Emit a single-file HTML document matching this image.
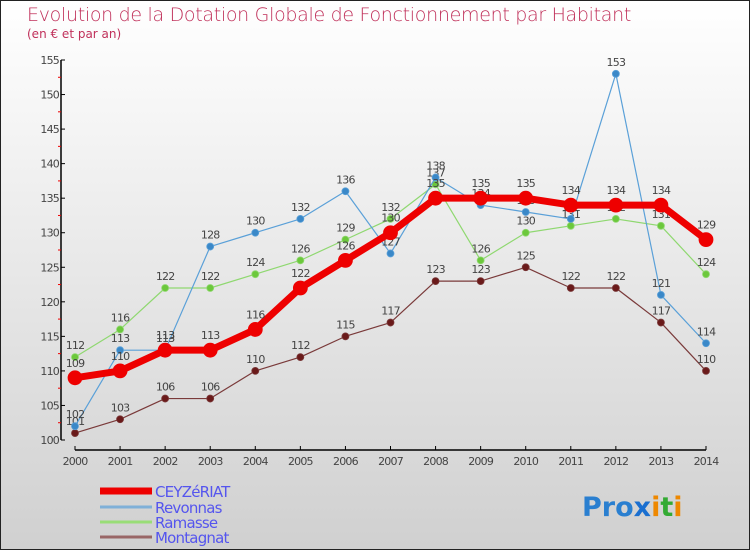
<!DOCTYPE html>
<html><head><meta charset="utf-8">
<style>
html,body{margin:0;padding:0;}
body{width:750px;height:550px;overflow:hidden;}
#wrap{position:relative;width:748px;height:548px;border:1px solid #222;background:linear-gradient(#ffffff,#d0d0d0);font-family:"DejaVu Sans","Liberation Sans",sans-serif;}
.t{position:absolute;color:#c0305a;}
</style></head><body>
<div id="wrap">
<div class="t" style="left:26px;top:3px;font-size:19px;font-weight:200;letter-spacing:-0.3px;">Evolution de la Dotation Globale de Fonctionnement par Habitant</div>
<div class="t" style="left:26px;top:26px;font-size:12px;">(en € et par an)</div>
<svg id="chart" width="750" height="550" style="position:absolute;left:-1px;top:-1px"></svg>
</div>
<script>
const years=[2000,2001,2002,2003,2004,2005,2006,2007,2008,2009,2010,2011,2012,2013,2014];
const ceyzeriat=[109,110,113,113,116,122,126,130,135,135,135,134,134,134,129];
const revonnas=[102,113,113,128,130,132,136,127,138,134,133,132,153,121,114];
const ramasse=[112,116,122,122,124,126,129,132,137,126,130,131,132,131,124];
const montagnat=[101,103,106,106,110,112,115,117,123,123,125,122,122,117,110];
const yTicks=[100,105,110,115,120,125,130,135,140,145,150,155];
const seriesNames=["CEYZéRIAT","Revonnas","Ramasse","Montagnat"];

const NS="http://www.w3.org/2000/svg";
const svg=document.getElementById('chart');
const x=i=>75+i*(706-75)/(years.length-1);
const y=v=>440-(v-100)*(380/55);
function mk(tag,attrs,parent){const e=document.createElementNS(NS,tag);for(const k in attrs)e.setAttribute(k,attrs[k]);(parent||svg).appendChild(e);return e;}

// axes
const ax=mk('line',{x1:61,y1:60,x2:61,y2:440,stroke:'#000','stroke-width':1.5});


const xa=mk('line',{x1:75,y1:450,x2:706,y2:450,stroke:'#000','stroke-width':1.5});


yTicks.forEach((v,k)=>{
  mk('line',{x1:61,y1:y(v),x2:65,y2:y(v),stroke:'#000'});
  if(k<yTicks.length-1){const mt=mk('line',{x1:58,y1:y(v+2.5),x2:61,y2:y(v+2.5),stroke:'#e00'});}
  const t=mk('text',{x:59,y:y(v)+4,'text-anchor':'end','font-size':11,fill:'#444','letter-spacing':'-0.8'});
  t.textContent=v;
  
  
});
years.forEach((yr,i)=>{
  mk('line',{x1:x(i),y1:446,x2:x(i),y2:450,stroke:'#000'});
  const t=mk('text',{x:x(i),y:465,'text-anchor':'middle','font-size':11,fill:'#444','letter-spacing':'-0.8'});
  t.textContent=yr;
  
  
});

function series(data,color,dot,w,r,name){
  const g=mk('g',{});
  
  
  mk('polyline',{points:data.map((v,i)=>x(i)+','+y(v)).join(' '),fill:'none',stroke:color,'stroke-width':w,'stroke-linejoin':'round'},g);
  data.forEach((v,i)=>{
    const c=mk('circle',{cx:x(i),cy:y(v),r:r,fill:dot,stroke:color,'stroke-width':0.8},g);
    
    
    const t=mk('text',{x:x(i),y:y(v)-8-(r>4?3:0),'text-anchor':'middle','font-size':11,fill:'#444','letter-spacing':'-0.8'},g);
    t.textContent=v;
    
    
  });
}
series(montagnat,'#7a3a3a','#6a1a1a',1.2,3.5,'series-montagnat');
series(ramasse,'#8fd870','#6cc83c',1.2,3.5,'series-ramasse');
series(revonnas,'#5aa0d8','#3a88c8',1.2,3.5,'series-revonnas');
series(ceyzeriat,'#ee0000','#ee0000',7,7,'series-ceyzeriat');

// legend
const legColors=['#ee0000','#7fb0d8','#99dd77','#996666'];
const legW=[7,3,3,3];
const legY=[491,507,522,537];
seriesNames.forEach((n,k)=>{
  const g=mk('g',{});
  
  
  mk('line',{x1:100,y1:legY[k],x2:152,y2:legY[k],stroke:legColors[k],'stroke-width':legW[k]},g);
  const t=mk('text',{x:155,y:legY[k]+6,'font-size':15,fill:'#5555ee','letter-spacing':'-0.8'},g);
  t.textContent=n;
});
// logo
const lg=mk('text',{x:582,y:516,'font-size':27,'font-family':'DejaVu Sans, sans-serif','font-weight':'bold'});


[['P','#2a7fd0'],['ro','#2a7fd0'],['x','#1a6fd0'],['i','#ee8800'],['t','#33aa33'],['i','#ee8800']].forEach(([s,c])=>{const ts=mk('tspan',{fill:c},lg);ts.textContent=s;});
</script>
</body></html>
